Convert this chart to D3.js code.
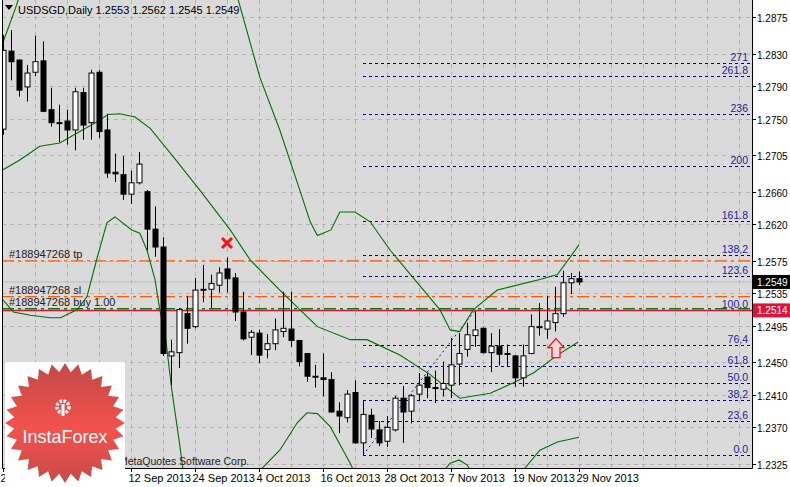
<!DOCTYPE html>
<html><head><meta charset="utf-8">
<script src="https://cdn.jsdelivr.net/npm/d3@7/dist/d3.min.js"></script>
<style>body{margin:0;background:#fff}svg{display:block}text{font-family:"Liberation Sans",Arial,sans-serif}</style>
</head><body><svg id="c" width="790" height="487"></svg>
<script>
// ---- data ----
const opens  = [1.2737,1.2833,1.2822,1.2789,1.2807,1.2821,1.2761,1.2745,1.2747,1.2736,1.2782,1.2745,1.2807,1.2736,1.2684,1.2681,1.2657,1.2671,1.2660,1.2614,1.2592,1.2458,1.2462,1.2510,1.2494,1.2540,1.2540,1.2545,1.2565,1.2554,1.2512,1.2481,1.2486,1.2466,1.2473,1.2488,1.2491,1.2477,1.2461,1.2433,1.2431,1.2429,1.2390,1.2382,1.2413,1.2351,1.2385,1.2367,1.2353,1.2367,1.2406,1.2390,1.2411,1.2432,1.2419,1.2417,1.2422,1.2448,1.2466,1.2483,1.2492,1.2462,1.2470,1.2461,1.2458,1.2431,1.2461,1.2494,1.2491,1.2499,1.2510,1.2548,1.2553];
const highs  = [1.2853,1.2859,1.2823,1.2816,1.2852,1.2845,1.2788,1.2767,1.2761,1.2788,1.2788,1.2810,1.2810,1.2756,1.2707,1.2704,1.2686,1.2709,1.2662,1.2642,1.2604,1.2478,1.2517,1.2532,1.2554,1.2570,1.2558,1.2567,1.2579,1.2560,1.2537,1.2490,1.2490,1.2485,1.2504,1.2537,1.2537,1.2477,1.2461,1.2447,1.2461,1.2438,1.2401,1.2416,1.2428,1.2403,1.2393,1.2378,1.2384,1.2409,1.2421,1.2411,1.2437,1.2437,1.2440,1.2451,1.2480,1.2486,1.2499,1.2513,1.2493,1.2486,1.2491,1.2472,1.2459,1.2472,1.2509,1.2523,1.2532,1.2543,1.2563,1.2560,1.2562];
const lows   = [1.2730,1.2797,1.2777,1.2771,1.2802,1.2758,1.2740,1.2721,1.2718,1.2711,1.2724,1.2724,1.2726,1.2677,1.2672,1.2650,1.2645,1.2669,1.2588,1.2580,1.2458,1.2422,1.2443,1.2473,1.2492,1.2524,1.2517,1.2536,1.2536,1.2501,1.2477,1.2459,1.2449,1.2455,1.2465,1.2481,1.2469,1.2445,1.2426,1.2419,1.2408,1.2388,1.2363,1.2376,1.2350,1.2336,1.2357,1.2347,1.2346,1.2365,1.2351,1.2375,1.2403,1.2406,1.2400,1.2408,1.2406,1.2422,1.2457,1.2469,1.2461,1.2438,1.2446,1.2445,1.2420,1.2420,1.2460,1.2483,1.2479,1.2488,1.2506,1.2534,1.2545];
const closes = [1.2834,1.2820,1.2785,1.2806,1.2820,1.2759,1.2745,1.2744,1.2736,1.2783,1.2742,1.2806,1.2734,1.2683,1.2682,1.2657,1.2671,1.2694,1.2614,1.2592,1.2461,1.2463,1.2515,1.2492,1.2539,1.2539,1.2547,1.2560,1.2553,1.2512,1.2479,1.2487,1.2459,1.2473,1.2490,1.2492,1.2477,1.2451,1.2433,1.2432,1.2429,1.2389,1.2384,1.2411,1.2351,1.2386,1.2368,1.2351,1.2370,1.2406,1.2389,1.2409,1.2422,1.2419,1.2418,1.2424,1.2447,1.2461,1.2484,1.2490,1.2462,1.2470,1.2460,1.2460,1.2431,1.2458,1.2494,1.2493,1.2501,1.2510,1.2548,1.2553,1.2549];

// Bollinger bands: [bar index, price]
const bandUpper = [[0,1.2844],[1.5,1.2884],[2.1,1.2902],[5,1.2945],[15,1.2994],[25,1.2945],[29.4,1.2896],[32.1,1.2801],[34.6,1.2736],[37.1,1.2662],[38.4,1.2623],[39.3,1.2606],[41,1.2613],[42.1,1.2635],[44,1.2635],[45.9,1.2623],[48.4,1.2588],[54.6,1.2515],[55.9,1.2490],[57.1,1.2488],[58.8,1.2515],[61.8,1.2539],[67.1,1.2552],[69.3,1.2558],[71.3,1.2585],[72,1.2595]];
const bandMiddle = [[0,1.2687],[2.1,1.2699],[4.6,1.2716],[7.1,1.2720],[9.6,1.2734],[12.1,1.2748],[13.1,1.2755],[14.6,1.2756],[16.5,1.2752],[18.4,1.2738],[21.3,1.2703],[24.6,1.2662],[28.4,1.2613],[30.9,1.2576],[34.6,1.2539],[37.1,1.2515],[39.3,1.2494],[43.4,1.2478],[45.5,1.2478],[49.6,1.2459],[53.4,1.2435],[57.1,1.2406],[60.9,1.2412],[63.8,1.2425],[66.3,1.2437],[69.3,1.2459],[71.9,1.2475]];
const bandLower = [[0,1.2527],[1.3,1.2512],[3.4,1.2508],[5.9,1.2505],[7.2,1.2505],[9.3,1.2515],[10.5,1.2531],[11.8,1.2580],[13,1.2622],[14,1.2629],[16.1,1.2613],[17.1,1.2609],[18,1.2588],[19,1.2552],[19.6,1.2515],[20.3,1.2482],[21.1,1.2416],[22,1.2355],[23,1.2281],[28,1.2256],[31,1.2306],[34.6,1.2342],[36.8,1.2376],[38,1.2388],[39.3,1.2387],[40.9,1.2371],[43.4,1.2326],[45,1.2293],[53,1.2293],[55.9,1.2326],[57,1.2330],[58,1.2324],[60,1.2293],[64,1.2305],[67.1,1.2342],[69.3,1.2352],[72,1.2358]];

const priceTicks = [1.2875,1.2830,1.2790,1.2750,1.2705,1.2660,1.2620,1.2575,1.2535,1.2495,1.2450,1.2410,1.2370,1.2325];
const dateLabels = ["21 Aug 2013","12 Sep 2013","24 Sep 2013","4 Oct 2013","16 Oct 2013","28 Oct 2013","7 Nov 2013","19 Nov 2013","29 Nov 2013"];
const dateIdx = [0,16,24,32,40,48,56,64,72];

const fibLevels = [0,23.6,38.2,50,61.8,76.4,100,123.6,138.2,161.8,200,236,261.8,271];
const fibText = ["0.0","23,6","38,2","50.0","61,8","76,4","100.0","123.6","138,2","161.8","200","236","261.8","271"];
const fibStart = [45,1.2336], fibEnd = [59,1.2514];

const tpPrice = 1.2575, slPrice = 1.2531, buyPrice = 1.2516, askPrice = 1.2514, bidPrice = 1.2549;
const crossMark = [28,1.2597];
const arrowMark = [69,1.2467];

// ---- drawing ----
const svg = d3.select("#c");
const L = 2, R = 752, T = 0, B = 468;
const x = d3.scaleLinear().domain([0,72]).range([3,579]);
const y = d3.scaleLinear().domain([1.2325,1.2875]).range([464,17]);

svg.append("rect").attr("x",L).attr("y",T).attr("width",R-L).attr("height",B-T).attr("fill","#dadada");
const defs = svg.append("defs");
defs.append("clipPath").attr("id","pc").append("rect").attr("x",L).attr("y",T).attr("width",R-L).attr("height",B-T);
const g = svg.append("g").attr("clip-path","url(#pc)");

for (let gx = 35; gx < R; gx += 32) g.append("line").attr("x1",gx+.5).attr("x2",gx+.5).attr("y1",T).attr("y2",B).attr("stroke","#b4b4b4").attr("stroke-dasharray","4,4");
priceTicks.forEach(p => g.append("line").attr("x1",L).attr("x2",R).attr("y1",Math.round(y(p))+.5).attr("y2",Math.round(y(p))+.5).attr("stroke","#b4b4b4").attr("stroke-dasharray","4,4"));

g.append("line").attr("x1",L).attr("x2",R).attr("y1",y(bidPrice)).attr("y2",y(bidPrice)).attr("stroke","#bcbcbc");

const fy = l => y(fibStart[1] + (fibEnd[1]-fibStart[1])*l/100);
fibLevels.forEach((l,i) => {
  g.append("line").attr("x1",x(fibStart[0])).attr("x2",R).attr("y1",Math.round(fy(l))+.5).attr("y2",Math.round(fy(l))+.5).attr("stroke","#000080").attr("stroke-dasharray","3,3");
  g.append("text").attr("x",748).attr("y",fy(l)-2).attr("text-anchor","end").attr("font-size",10.5).attr("fill","#1c1c9c").text(fibText[i]);
});
g.append("line").attr("x1",x(fibStart[0])).attr("y1",y(fibStart[1])).attr("x2",x(fibEnd[0])).attr("y2",y(fibEnd[1])).attr("stroke","#1010b0").attr("stroke-dasharray","2,3");

[[tpPrice,"#ff5a00","#188947268 tp"],[slPrice,"#ff5a00","#188947268 sl"],[buyPrice,"#008000","#188947268 buy 1.00"]].forEach(([p,c,t]) => {
  g.append("line").attr("x1",L).attr("x2",R).attr("y1",y(p)).attr("y2",y(p)).attr("stroke",c).attr("stroke-width",1.3).attr("stroke-dasharray","12,4,3,4");
  g.append("text").attr("x",9).attr("y",y(p)-3).attr("font-size",11).attr("fill","#222").text(t);
});
g.append("line").attr("x1",L).attr("x2",R).attr("y1",y(askPrice)).attr("y2",y(askPrice)).attr("stroke","#e0103c").attr("stroke-width",1.5);

const line = d3.line().x(d=>x(d[0])).y(d=>y(d[1]));
[bandUpper,bandMiddle,bandLower].forEach(b => g.append("path").attr("d",line(b)).attr("fill","none").attr("stroke","#007000").attr("stroke-width",1.1));

const bw = 5;
opens.forEach((o,i) => {
  const cx = Math.round(x(i))+.5, h=highs[i], l=lows[i], c=closes[i];
  g.append("line").attr("x1",cx).attr("x2",cx).attr("y1",y(h)).attr("y2",y(l)).attr("stroke","#000");
  const top = y(Math.max(o,c)), bot = y(Math.min(o,c));
  g.append("rect").attr("x",cx-bw/2).attr("y",top).attr("width",bw).attr("height",Math.max(1,bot-top))
    .attr("fill", c>=o ? "#fff" : "#000").attr("stroke","#000");
});

const cxp = x(crossMark[0]), cyp = y(crossMark[1]);
g.append("path").attr("d",`M${cxp-5},${cyp-5}L${cxp+5},${cyp+5}M${cxp+5},${cyp-5}L${cxp-5},${cyp+5}`).attr("stroke","#ff1010").attr("stroke-width",3);
const ax = x(arrowMark[0])+1, ay = y(arrowMark[1]);
g.append("path").attr("d",`M${ax},${ay-10}L${ax+8},${ay-1}L${ax+4},${ay-1}L${ax+4},${ay+9}L${ax-4},${ay+9}L${ax-4},${ay-1}L${ax-8},${ay-1}Z`).attr("fill","#f2d8d8").attr("stroke","#ff1010").attr("stroke-width",1.3);

g.append("text").attr("x",119).attr("y",465).attr("font-size",10.5).attr("fill","#222").text("MetaQuotes Software Corp.");

svg.append("path").attr("d",`M${L+.5},${T}V${B+.5}H${R+.5}V${T}`).attr("fill","none").attr("stroke","#000");

priceTicks.forEach(p => {
  const yy = Math.round(y(p))+.5;
  svg.append("line").attr("x1",R).attr("x2",R+4).attr("y1",yy).attr("y2",yy).attr("stroke","#000");
  svg.append("text").attr("x",757).attr("y",yy+4).attr("font-size",10).attr("fill","#000").text(p.toFixed(4));
});
[[bidPrice,"#000"],[askPrice,"#dc143c"]].forEach(([p,c]) => {
  svg.append("rect").attr("x",753).attr("y",y(p)-7).attr("width",37).attr("height",14).attr("fill",c);
  svg.append("text").attr("x",757).attr("y",y(p)+4).attr("font-size",10).attr("fill","#fff").text(p.toFixed(4));
});

dateIdx.forEach((d,i) => {
  const xx = Math.round(x(d))+.5;
  svg.append("line").attr("x1",xx).attr("x2",xx).attr("y1",B).attr("y2",B+4).attr("stroke","#000");
  svg.append("text").attr("x",xx-3).attr("y",482).attr("font-size",11).attr("fill","#000").text(dateLabels[i]);
});

svg.append("path").attr("d","M5,5L13,5L9,10Z").attr("fill","#000");
svg.append("text").attr("x",18).attr("y",14).attr("font-size",11).attr("fill","#000").text("USDSGD,Daily  " + [opens[72],highs[72],lows[72],closes[72]].map(v=>v.toFixed(4)).join(" "));

const lg = svg.append("g");
lg.append("rect").attr("x",5).attr("y",362).attr("width",120).attr("height",125).attr("fill","#fff");
const grad = defs.append("linearGradient").attr("id","lgr").attr("x1",0).attr("y1",0).attr("x2",0).attr("y2",1);
grad.append("stop").attr("offset","0").attr("stop-color","#c24a48");
grad.append("stop").attr("offset","0.55").attr("stop-color","#f4514c");
grad.append("stop").attr("offset","1").attr("stop-color","#c84a48");
const n = 28, cx0 = 65, cy0 = 423, ro = 60, ri = 51;
const pts = d3.range(n*2).map(k => { const r = k%2?ri:ro, a = Math.PI*k/n - Math.PI/2; return [cx0+r*Math.cos(a), cy0+r*Math.sin(a)]; });
lg.append("path").attr("d","M"+pts.join("L")+"Z").attr("fill","url(#lgr)");
lg.append("circle").attr("cx",63).attr("cy",407).attr("r",6).attr("fill","none").attr("stroke","#fff").attr("stroke-width",3.5).attr("stroke-dasharray","2.5,1.5");
lg.append("rect").attr("x",61.5).attr("y",404).attr("width",3).attr("height",12).attr("fill","#fff");
lg.append("text").attr("x",65).attr("y",443).attr("text-anchor","middle").attr("font-size",18).attr("font-family","Open Sans, sans-serif").attr("fill","#fff").text("InstaForex");
</script></body></html>
